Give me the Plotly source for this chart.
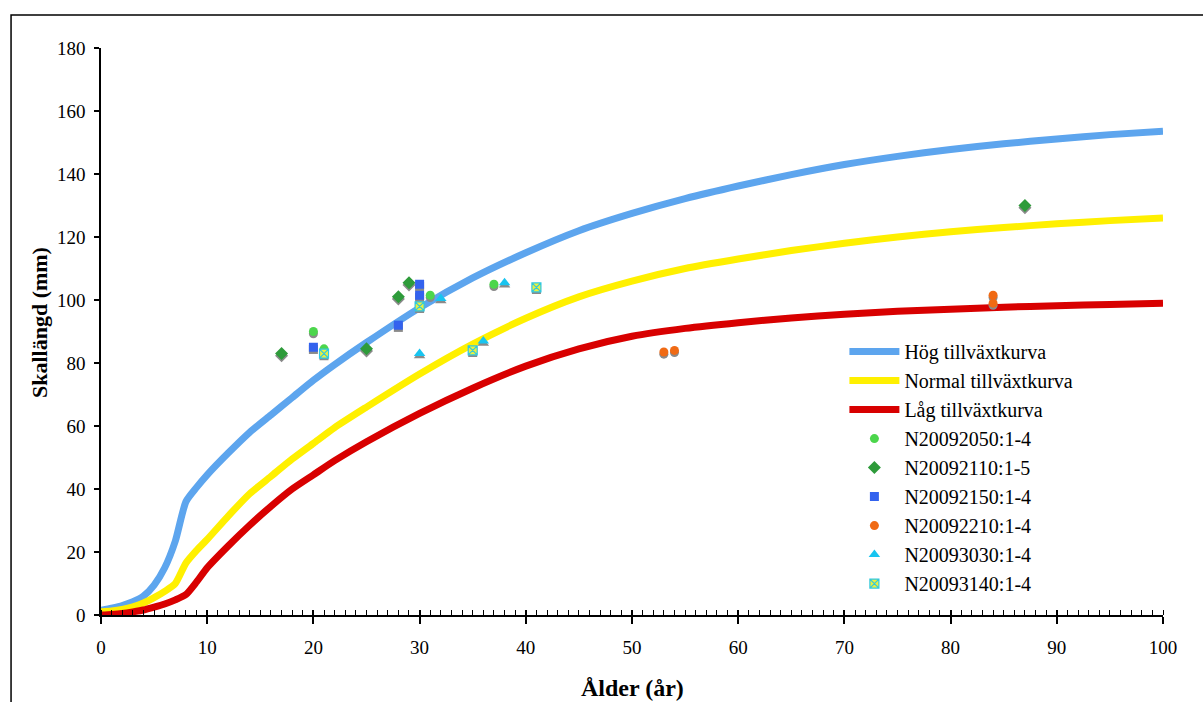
import plotly.graph_objects as go

# Growth curves (age in years, skull length in mm)
curve_age = [0, 1, 2, 3, 4, 5, 6, 7, 8, 9, 10, 12, 14, 16, 18, 20, 22, 25, 30, 35,
             40, 45, 50, 55, 60, 65, 70, 75, 80, 85, 90, 95, 100]
hog = [1.5, 2.2, 3.0, 4.2, 6.0, 9.5, 15.0, 23.5, 36.0, 40.5, 44.5, 51.5, 58.0, 63.5, 69.0,
       74.5, 79.5, 86.5, 97.5, 107.0, 115.0, 122.0, 127.5, 132.2, 136.2, 139.8, 143.0,
       145.6, 147.8, 149.6, 151.1, 152.5, 153.6]
normal = [1.0, 1.3, 1.8, 2.6, 3.8, 5.5, 7.5, 10.0, 16.5, 20.5, 24.0, 31.5, 38.5, 44.0, 49.5,
          54.5, 59.5, 66.0, 76.5, 86.0, 94.2, 101.0, 106.0, 110.0, 113.0, 115.7, 118.0,
          120.0, 121.7, 123.0, 124.2, 125.2, 126.0]
lag = [0.0, 0.2, 0.5, 1.0, 1.6, 2.5, 3.5, 4.8, 6.5, 10.5, 15.0, 22.0, 28.5, 34.5, 40.0,
       44.5, 49.0, 55.0, 64.0, 72.0, 79.0, 84.5, 88.5, 91.0, 92.8, 94.3, 95.5, 96.4,
       97.1, 97.7, 98.2, 98.6, 99.0]

# Observations
s2050_x = [20, 21, 31, 37]
s2050_y = [90, 84.5, 101.5, 105]
s2110_x = [17, 25, 28, 29, 87]
s2110_y = [83, 84.5, 101, 105.5, 130]
s2150_x = [20, 28, 30, 30]
s2150_y = [85, 92, 105, 101.5]
s2210_x = [53, 54, 84, 84]
s2210_y = [83.5, 84, 101.5, 99]
s3030_x = [30, 32, 36, 38]
s3030_y = [83, 100.5, 87, 105.5]
s3140_x = [21, 30, 35, 41]
s3140_y = [83, 98, 84, 104]

FONT = "'Liberation Serif', 'Times New Roman', 'DejaVu Serif', serif"

fig = go.Figure()

for name, ys, col in [("Hög tillväxtkurva", hog, "#5DA5EE"),
                      ("Normal tillväxtkurva", normal, "#FFF000"),
                      ("Låg tillväxtkurva", lag, "#D80000")]:
    fig.add_trace(go.Scatter(x=curve_age, y=ys, mode="lines", name=name,
                             line=dict(color=col, width=7, shape="spline", smoothing=0.6)))

series = [
    ("N20092050:1-4", s2050_x, s2050_y, "circle", "#4CD64C", "#4CD64C", 9),
    ("N20092110:1-5", s2110_x, s2110_y, "diamond", "#2E9B3A", "#2E9B3A", 10),
    ("N20092150:1-4", s2150_x, s2150_y, "square", "#3362EE", "#3362EE", 9),
    ("N20092210:1-4", s2210_x, s2210_y, "circle", "#F06A14", "#F06A14", 9),
    ("N20093030:1-4", s3030_x, s3030_y, "triangle-up", "#18C4F0", "#18C4F0", 10),
    ("N20093140:1-4", s3140_x, s3140_y, "square-x", "#E8F040", "#30C8E0", 9),
]

shadow_offset = 0.7
for name, xs, ys, sym, fill, edge, size in series:
    fig.add_trace(go.Scatter(x=xs, y=[v - shadow_offset for v in ys], mode="markers",
                             showlegend=False, hoverinfo="skip",
                             marker=dict(symbol=sym, size=size, color="#8A8A8A",
                                         line=dict(width=0))))
    fig.add_trace(go.Scatter(x=xs, y=ys, mode="markers", name=name,
                             marker=dict(symbol=sym, size=size, color=fill,
                                         line=dict(color=edge, width=1.2 if sym == "square-x" else 0))))

# helper axis for the major x ticks that cross the axis line
fig.add_trace(go.Scatter(x=[0, 100], y=[0, 0], xaxis="x2", mode="lines",
                         line=dict(width=0), showlegend=False, hoverinfo="skip"))

fig.update_layout(
    width=1203, height=702,
    margin=dict(l=101, r=40, t=48, b=87),
    paper_bgcolor="white", plot_bgcolor="white",
    font=dict(family=FONT, color="black"),
    showlegend=True,
    legend=dict(x=0.70, y=0.499, xanchor="left", yanchor="top",
                font=dict(family=FONT, size=20, color="black"),
                bgcolor="rgba(255,255,255,0)", itemwidth=50, tracegroupgap=0),
    xaxis=dict(range=[0, 100], dtick=10, tick0=0, showgrid=False, zeroline=False,
               showline=True, linecolor="black", linewidth=1.5,
               ticks="outside", ticklen=7, tickwidth=1.5, tickcolor="black",
               minor=dict(dtick=1, ticks="inside", ticklen=5, tickwidth=1, tickcolor="black"),
               ticklabelstandoff=7,
               tickfont=dict(family=FONT, size=19, color="black")),
    xaxis2=dict(range=[0, 100], dtick=10, tick0=0, overlaying="x", anchor="y",
                side="bottom", showgrid=False, zeroline=False, showline=False,
                ticks="inside", ticklen=5, tickwidth=1.5, tickcolor="black",
                showticklabels=False),
    yaxis=dict(range=[0, 180], dtick=20, tick0=0, showgrid=False, zeroline=False,
               showline=True, linecolor="black", linewidth=1.5,
               ticks="outside", ticklen=5, tickwidth=1.5, tickcolor="black",
               ticklabelstandoff=5,
               tickfont=dict(family=FONT, size=19, color="black")),
    annotations=[
        dict(text="<b>Ålder (år)</b>", xref="paper", yref="paper", x=0.5, y=-0.1287,
             xanchor="center", yanchor="middle", showarrow=False,
             font=dict(family=FONT, size=24, color="black")),
        dict(text="<b>Skallängd (mm)</b>", xref="paper", yref="paper", x=-0.0574, y=0.515,
             xanchor="center", yanchor="middle", showarrow=False, textangle=-90,
             font=dict(family=FONT, size=22, color="black")),
    ],
    shapes=[
        dict(type="rect", xref="paper", yref="paper", x0=-0.0847, y0=-0.4, x1=1.2, y1=1.0582,
             line=dict(color="black", width=1.5), fillcolor="rgba(0,0,0,0)", layer="below"),
    ],
)

fig.write_html("out.html")
